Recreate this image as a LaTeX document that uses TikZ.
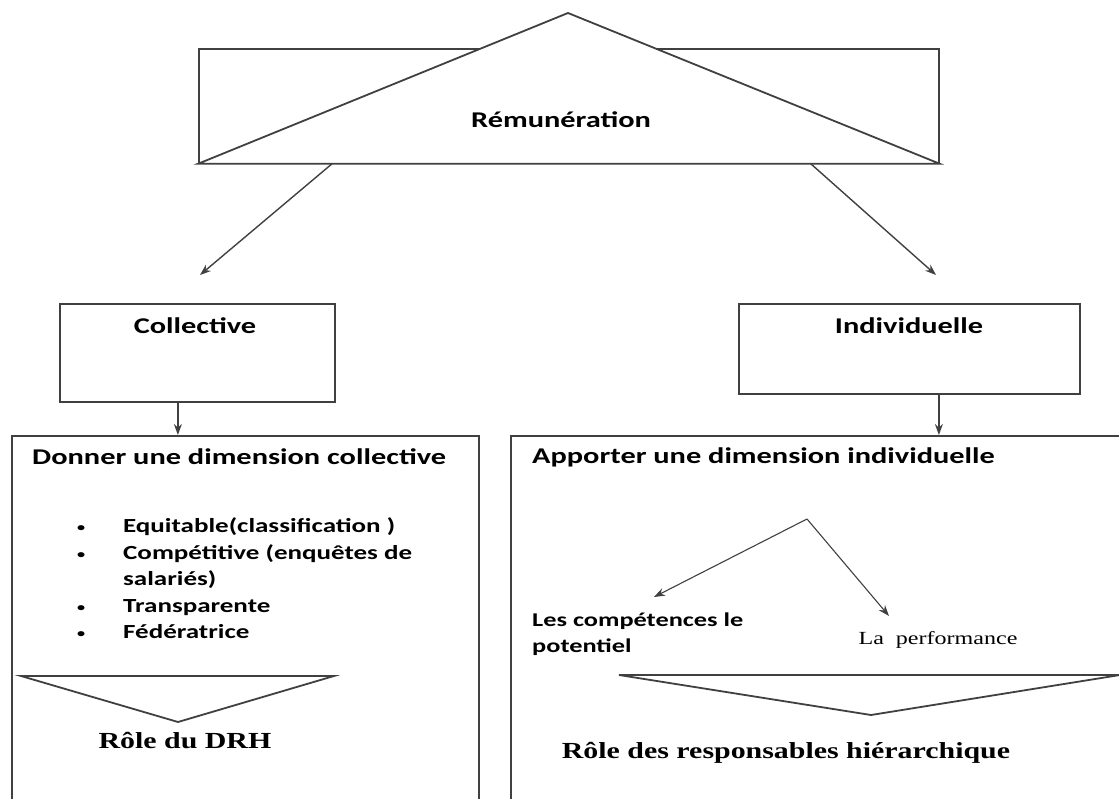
\documentclass[tikz,border=0pt]{standalone}
\usepackage{fontspec}
\usetikzlibrary{arrows.meta,positioning}
\newfontfamily\carl[FakeStretch=1.35]{Carlito}
\newfontfamily\tms[FakeStretch=1.3]{Liberation Serif}
\newcommand{\puce}{\raisebox{1pt}{\scalebox{0.6}{\textbullet}}}

\begin{document}
\begin{tikzpicture}[x=1pt,y=-1pt,
	boite/.style={draw=black!75,line width=1.8pt},
	fleche/.style={draw=black!75,line width=1.4pt,-{Stealth[length=11pt,width=8pt]}},
	titre/.style={font=\carl\bfseries\fontsize{22.5}{26}\selectfont,inner sep=0pt}]
	\useasboundingbox (0,0) rectangle (1119,799);
	\clip (0,0) rectangle (1119,799);

	% Rémunération
	\node[boite,minimum width=740pt,minimum height=114pt,anchor=north west] (remu) at (198,48) {};
	\coordinate (haut) at (568,13);
	\filldraw[boite,fill=white] (remu.south west) -- (haut) -- (remu.south east) -- cycle;
	\node[titre] (remutxt) at (561,120) {Rémunération};

	% deux branches
	\coordinate (pointeC) at (200,275);
	\coordinate (pointeI) at (936,275);
	\draw[fleche] ([xshift=134pt]remu.south west) -- (pointeC);
	\draw[fleche] ([xshift=-129pt]remu.south east) -- (pointeI);

	\node[boite,minimum width=275pt,minimum height=98pt,anchor=north west] (coll) at (59,303) {};
	\node[titre] (colltxt) at (195,326) {Collective};
	\node[boite,minimum width=341pt,minimum height=90pt,anchor=north west] (indiv) at (738,303) {};
	\node[titre] (indivtxt) at (909,326) {Individuelle};

	% grands cadres
	\node[boite,minimum width=467pt,minimum height=380pt,anchor=north west] (gauche) at (11,435) {};
	\node[boite,minimum width=620pt,minimum height=380pt,anchor=north west] (droite) at (510,435) {};
	\coordinate (c1) at ([xshift=-19.5pt]coll.south);
	\draw[fleche] (c1) -- (c1 |- gauche.north);
	\coordinate (c2) at ([xshift=29.5pt]indiv.south);
	\draw[fleche] (c2) -- (c2 |- droite.north);

	% cadre gauche
	\node[titre,anchor=west] (donner) at (32,457) {Donner une dimension collective};
	\node[anchor=north west,inner sep=0pt,font=\carl\bfseries\fontsize{20}{26.5}\selectfont] (liste) at (77,514) {%
		\begin{tabular}{@{}p{46pt}@{}l@{}}
			\puce & Equitable(classification )\\
			\puce & Compétitive (enquêtes de\\
			      & salariés)\\
			\puce & Transparente\\
			\puce & Fédératrice
		\end{tabular}};
	\coordinate (g1) at (21,676);
	\coordinate (g2) at (334,676);
	\coordinate (g3) at (178,722);
	\draw[boite] (g1) -- (g2) -- (g3) -- cycle;
	\node[font=\tms\bfseries\fontsize{23}{27}\selectfont] (drh) at (185,741) {Rôle du DRH};

	% cadre droit
	\node[titre,anchor=west] (apporter) at (532,457) {Apporter une dimension individuelle};
	\coordinate (sommet) at (807,519);
	\coordinate (pointeL) at (654,597);
	\coordinate (pointeP) at (889,616);
	\draw[fleche,line width=1.1pt] (sommet) -- (pointeL);
	\draw[fleche,line width=1.1pt] (sommet) -- (pointeP);
	\node[anchor=north west,inner sep=0pt,align=left,font=\carl\bfseries\fontsize{19.5}{26}\selectfont] (comp) at (532,613) {Les compétences le\\potentiel};
	\node[font=\tms\fontsize{18.5}{22}\selectfont] (perf) at (938,640) {La\ \ performance};
	\coordinate (d1) at (619,675);
	\coordinate (d2) at (1120,675);
	\coordinate (d3) at (871,715);
	\draw[boite] (d1) -- (d2) -- (d3) -- cycle;
	\node[font=\tms\bfseries\fontsize{23}{27}\selectfont] (resp) at (786,753) {Rôle des responsables hiérarchique};
\end{tikzpicture}
\end{document}
